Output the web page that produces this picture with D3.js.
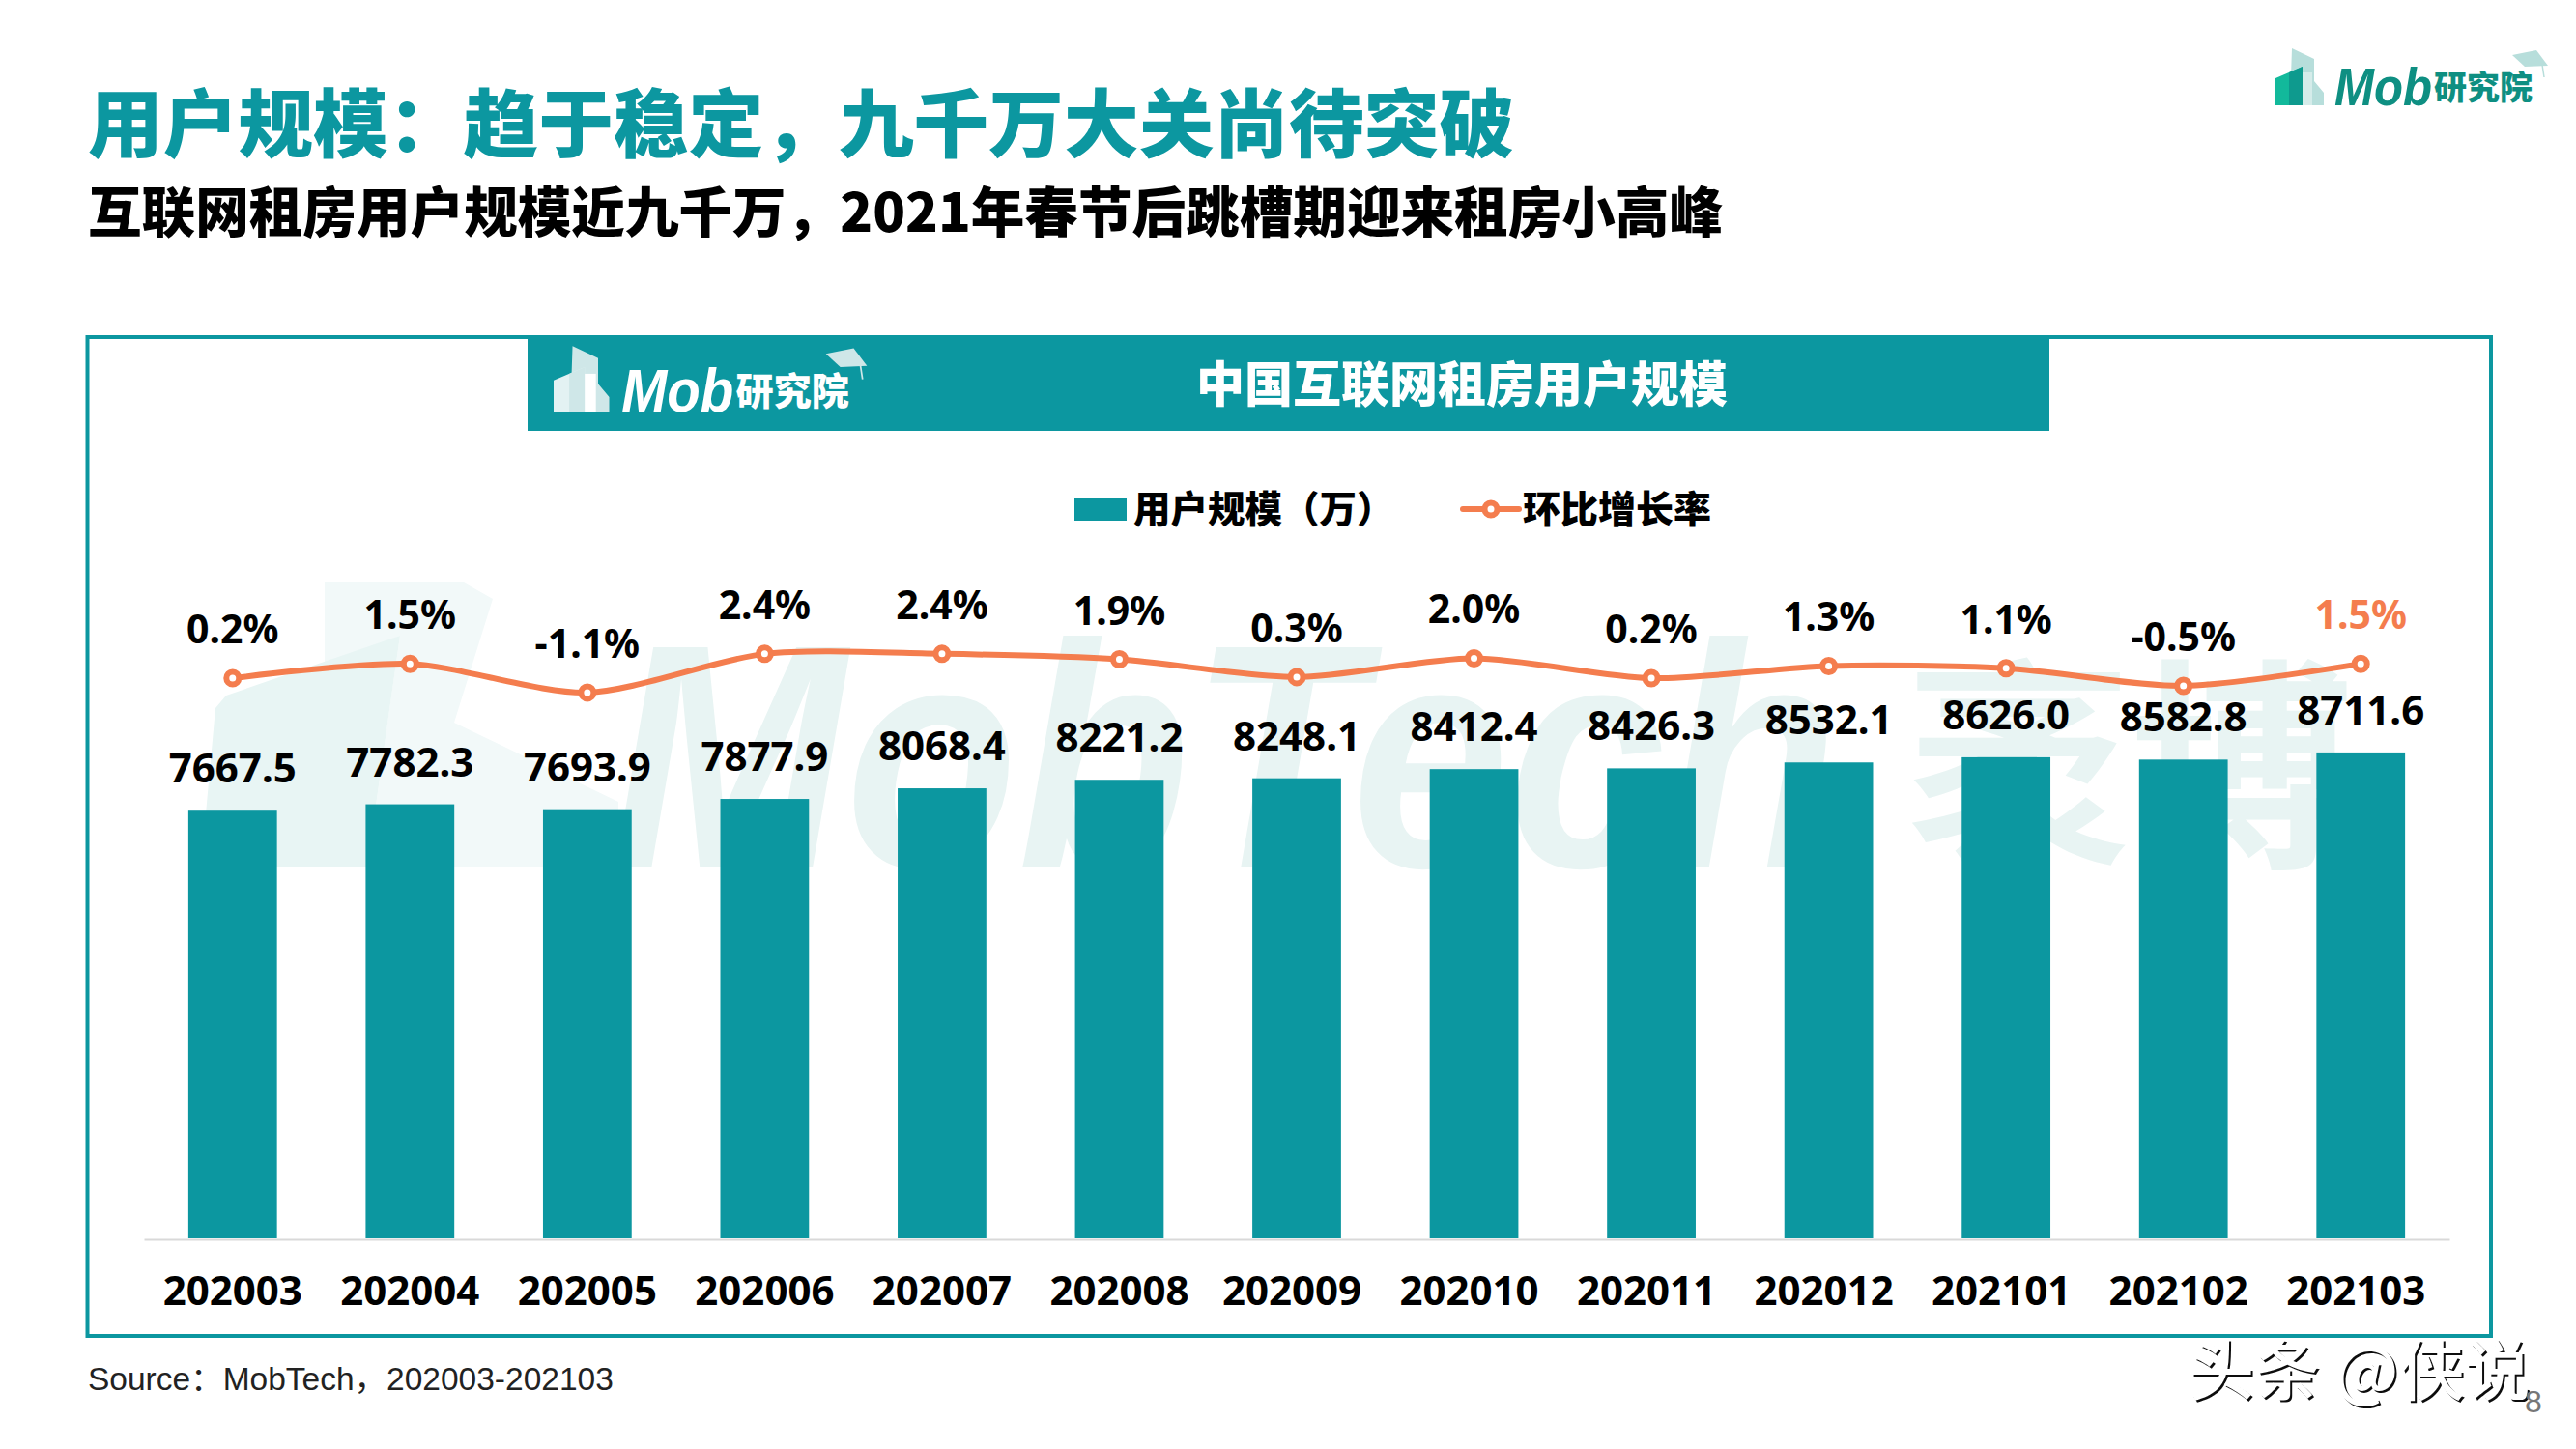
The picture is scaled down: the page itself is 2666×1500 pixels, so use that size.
<!DOCTYPE html>
<html>
<head>
<meta charset="utf-8">
<script src="https://cdn.jsdelivr.net/npm/d3@7/dist/d3.min.js"></script>
<style>
  html, body { margin: 0; padding: 0; background: #fff; }
  svg { display: block; }
  text { font-family: "Noto Sans CJK SC", "Noto Sans", sans-serif; }
  .num { font-family: "Noto Sans", "Open Sans", sans-serif; font-weight: 700; font-size: 42px; fill: #000; }
</style>
</head>
<body>
<div id="chart"></div>
<script>
//data
var months = ["202003","202004","202005","202006","202007","202008","202009","202010","202011","202012","202101","202102","202103"];
var users = [7667.5,7782.3,7693.9,7877.9,8068.4,8221.2,8248.1,8412.4,8426.3,8532.1,8626.0,8582.8,8711.6];
var growth = [0.2,1.5,-1.1,2.4,2.4,1.9,0.3,2.0,0.2,1.3,1.1,-0.5,1.5];

var titleText = "用户规模：趋于稳定，九千万大关尚待突破";
var subtitleText = "互联网租房用户规模近九千万，2021年春节后跳槽期迎来租房小高峰";
var chartTitle = "中国互联网租房用户规模";
var legendBar = "用户规模（万）";
var legendLine = "环比增长率";
var sourceText = "Source：MobTech，202003-202103";

var teal = "#0c97a0";
var orange = "#f47d4e";

var svg = d3.select("#chart").append("svg")
	.attr("width", 2666)
	.attr("height", 1500);

var defs = svg.append("defs");

//makes the thin, chipped look of the stamp in the corner
var chip = defs.append("filter").attr("id", "chip");
chip.append("feOffset").attr("in", "SourceGraphic").attr("dx", -2).attr("dy", -2).attr("result", "off");
chip.append("feComposite").attr("in", "SourceGraphic").attr("in2", "off").attr("operator", "out");

//small logo, origin at bottom left of the building
function logo(x, y, k, back, front, dark, strip, textColor) {
	var g = svg.append("g").attr("transform", "translate(" + x + "," + y + ") scale(" + k + ")");
	g.append("polygon").attr("points", "17,-59 40,-48 40,-25 50,-13 50,0 15,0").attr("fill", back);
	g.append("polygon").attr("points", "0,-28 28,-40 28,0 0,0").attr("fill", front);
	g.append("polygon").attr("points", "14,-34 28,-40 28,0 14,0").attr("fill", dark);
	g.append("rect").attr("x", 28).attr("y", -34).attr("width", 10).attr("height", 34).attr("fill", strip);
	g.append("text").attr("x", 61).attr("y", 0)
		.text("Mob")
		.style("font-family", "Liberation Sans")
		.style("font-style", "italic")
		.style("font-weight", 700)
		.style("font-size", "55px")
		.attr("textLength", 101)
		.attr("lengthAdjust", "spacingAndGlyphs")
		.attr("fill", textColor);
	g.append("text").attr("x", 164).attr("y", -6)
		.text("研究院")
		.style("font-weight", 900)
		.style("font-size", "34px")
		.attr("fill", textColor);
	g.append("polygon").attr("points", "245,-52 270,-57 282,-41 258,-40").attr("fill", back);
	g.append("line").attr("x1", 276).attr("y1", -42).attr("x2", 278).attr("y2", -29)
		.attr("stroke", back).attr("stroke-width", 1.5);
}

//page titles
svg.append("text").attr("x", 91).attr("y", 157)
	.text(titleText)
	.style("font-size", "77.7px")
	.style("font-weight", 900)
	.attr("fill", teal);

svg.append("text").attr("x", 91).attr("y", 240)
	.text(subtitleText)
	.style("font-size", "55.6px")
	.style("font-weight", 900)
	.attr("fill", "#000");

logo(2355, 109, 1, "#b7dedb", "#12b99b", "#0e9a8e", "#d5ecea", "#0e8f82");

//watermark goes under everything in the frame
svg.append("polygon")
	.attr("points", "336,603 480,603 510,620 470,748 640,830 640,897 380,897 414,658 336,690")
	.attr("fill", "#f2f9f9");

svg.append("polygon")
	.attr("points", "234,720 414,658 380,897 208,897 223,733")
	.attr("fill", "#e8f5f4");

svg.append("text").attr("x", 632).attr("y", 897)
	.text("MobTech")
	.style("font-family", "Liberation Sans")
	.style("font-style", "italic")
	.style("font-weight", 700)
	.style("font-size", "330px")
	.attr("textLength", 1270)
	.attr("lengthAdjust", "spacingAndGlyphs")
	.attr("fill", "#e8f4f3");

svg.append("text").attr("x", 1973).attr("y", 880)
	.text("袤博")
	.style("font-size", "232px")
	.style("font-weight", 700)
	.attr("fill", "#e8f4f3");

//frame and header band
svg.append("rect")
	.attr("x", 90.5).attr("y", 349)
	.attr("width", 2487.5).attr("height", 1034)
	.attr("fill", "none")
	.attr("stroke", teal)
	.attr("stroke-width", 4);

svg.append("rect")
	.attr("x", 546).attr("y", 347)
	.attr("width", 1575).attr("height", 99)
	.attr("fill", teal);

logo(573, 426, 1.15, "#cfe7e8", "#e3f2f3", "#cfe7e8", "#ffffff", "#ffffff");

svg.append("text").attr("x", 1513).attr("y", 416)
	.attr("text-anchor", "middle")
	.text(chartTitle)
	.style("font-size", "50px")
	.style("font-weight", 900)
	.attr("fill", "#fff");

//legend
svg.append("rect")
	.attr("x", 1112).attr("y", 516)
	.attr("width", 54).attr("height", 23)
	.attr("fill", teal);

svg.append("text").attr("x", 1173).attr("y", 541)
	.text(legendBar)
	.style("font-size", "38.5px")
	.style("font-weight", 900);

svg.append("line")
	.attr("x1", 1514).attr("x2", 1572)
	.attr("y1", 527).attr("y2", 527)
	.attr("stroke", orange)
	.attr("stroke-width", 6)
	.attr("stroke-linecap", "round");

svg.append("circle")
	.attr("cx", 1543).attr("cy", 527).attr("r", 6.5)
	.attr("fill", "#fff")
	.attr("stroke", orange)
	.attr("stroke-width", 6);

svg.append("text").attr("x", 1576).attr("y", 541)
	.text(legendLine)
	.style("font-size", "39px")
	.style("font-weight", 900);

//scales
var x = d3.scaleBand()
	.domain(months)
	.range([149, 2535])
	.paddingInner(0.5)
	.paddingOuter(0.25);

var baseY = 1282;

var yBar = d3.scaleLinear()
	.domain([0, 10000])
	.range([baseY, baseY - 577.5]);

var yLine = d3.scaleLinear()
	.domain([-2, 3])
	.range([727.2, 670]);

function cx(i) {
	return x(months[i]) + x.bandwidth() / 2;
}

//bars
svg.selectAll(".bar")
	.data(users)
	.enter()
	.append("rect")
	.attr("class", "bar")
	.attr("x", function(d, i) { return x(months[i]); })
	.attr("y", function(d) { return yBar(d); })
	.attr("width", x.bandwidth())
	.attr("height", function(d) { return baseY - yBar(d); })
	.attr("fill", teal);

//x axis
var xAxis = svg.append("g")
	.attr("transform", "translate(0," + (baseY + 1) + ")")
	.call(d3.axisBottom(x).tickSize(0).tickSizeOuter(0));

xAxis.select(".domain")
	.attr("stroke", "#d9d9d9")
	.attr("stroke-width", 2);

//labels from 202009 on sit a little to the left of their bars in the original
xAxis.selectAll(".tick text")
	.attr("y", 68)
	.attr("dy", 0)
	.attr("dx", function(d, i) { return i >= 6 ? -5 : 0; })
	.attr("class", "num");

//bar values
svg.selectAll(".userLabel")
	.data(users)
	.enter()
	.append("text")
	.attr("class", "num userLabel")
	.attr("x", function(d, i) { return cx(i); })
	.attr("y", function(d) { return yBar(d) - 29; })
	.attr("text-anchor", "middle")
	.text(function(d) { return d.toFixed(1); });

//growth line
var line = d3.line()
	.x(function(d, i) { return cx(i); })
	.y(function(d) { return yLine(d); })
	.curve(d3.curveCardinal.tension(0.2));

svg.append("path")
	.datum(growth)
	.attr("d", line)
	.attr("fill", "none")
	.attr("stroke", orange)
	.attr("stroke-width", 6)
	.attr("stroke-linecap", "round");

svg.selectAll(".dot")
	.data(growth)
	.enter()
	.append("circle")
	.attr("class", "dot")
	.attr("cx", function(d, i) { return cx(i); })
	.attr("cy", function(d) { return yLine(d); })
	.attr("r", 6.5)
	.attr("fill", "#fff")
	.attr("stroke", orange)
	.attr("stroke-width", 6);

svg.selectAll(".growthLabel")
	.data(growth)
	.enter()
	.append("text")
	.attr("class", "num growthLabel")
	.attr("x", function(d, i) { return cx(i); })
	.attr("y", function(d) { return yLine(d) - 36; })
	.attr("text-anchor", "middle")
	.text(function(d) { return d.toFixed(1) + "%"; })
	.style("font-size", "41px")
	.style("fill", function(d, i) { return i == growth.length - 1 ? orange : "#000"; });

//footer
svg.append("text").attr("x", 91).attr("y", 1439)
	.text(sourceText)
	.style("font-family", "Liberation Sans, Noto Sans CJK SC")
	.style("font-size", "33.5px")
	.attr("fill", "#222");

svg.append("text").attr("x", 2267).attr("y", 1446)
	.text("头条 @侠说")
	.style("font-size", "68px")
	.style("font-weight", 500)
	.attr("filter", "url(#chip)")
	.attr("fill", "#111");

svg.append("text").attr("x", 2613).attr("y", 1462)
	.text("8")
	.style("font-family", "Liberation Sans")
	.style("font-size", "32px")
	.attr("fill", "#777");
</script>
</body>
</html>
